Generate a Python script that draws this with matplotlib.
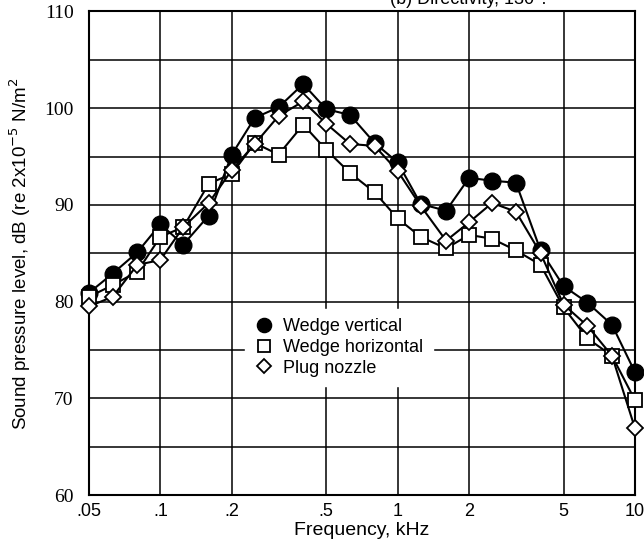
import numpy as np
import matplotlib
matplotlib.use("Agg")
import matplotlib.pyplot as plt
from matplotlib.ticker import FixedLocator, FixedFormatter, NullLocator

plt.rcParams['font.family'] = ['Liberation Sans', 'DejaVu Sans']

# 1/3-octave band centre frequencies, kHz
freq = [0.05, 0.063, 0.08, 0.1, 0.125, 0.16, 0.2, 0.25, 0.315, 0.4, 0.5, 0.63,
        0.8, 1.0, 1.25, 1.6, 2.0, 2.5, 3.15, 4.0, 5.0, 6.3, 8.0, 10.0]

wedge_vertical = [80.9, 82.9, 85.1, 88.0, 85.9, 88.9, 95.2, 99.0, 100.1, 102.5, 99.9, 99.3,
                  96.4, 94.4, 90.1, 89.4, 92.8, 92.5, 92.3, 85.3, 81.6, 79.9, 77.6, 72.7]
wedge_horizontal = [80.5, 81.7, 83.1, 86.7, 87.7, 92.2, 93.2, 96.4, 95.2, 98.3, 95.7, 93.3,
                    91.3, 88.6, 86.7, 85.5, 86.9, 86.5, 85.3, 83.8, 79.4, 76.2, 74.4, 69.8]
plug_nozzle = [79.5, 80.5, 83.8, 84.3, 87.7, 90.2, 93.6, 96.3, 99.2, 100.7, 98.4, 96.3,
               96.1, 93.5, 89.9, 86.3, 88.2, 90.2, 89.3, 85.0, 79.7, 77.5, 74.4, 66.9]

xtick_vals = [0.05, 0.1, 0.2, 0.5, 1, 2, 5, 10]
xtick_labels = ['.05', '.1', '.2', '.5', '1', '2', '5', '10']
ytick_vals = [60, 70, 80, 90, 100, 110]

fig = plt.figure(figsize=(6.44, 5.47), dpi=100)
ax = fig.add_axes([0.138, 0.095, 0.848, 0.884])

ax.plot(freq, wedge_vertical, color='black', lw=1.5, marker='o', ms=12,
        mfc='black', mec='black', label='Wedge vertical', zorder=3, clip_on=False)
ax.plot(freq, wedge_horizontal, color='black', lw=1.5, marker='s', ms=10.5,
        mfc='white', mec='black', mew=1.3, label='Wedge horizontal', zorder=4, clip_on=False)
ax.plot(freq, plug_nozzle, color='black', lw=1.5, marker='D', ms=8,
        mfc='white', mec='black', mew=1.3, label='Plug nozzle', zorder=5, clip_on=False)

ax.set_xscale('log')
ax.set_xlim(0.05, 10)
ax.set_ylim(60, 110)
ax.xaxis.set_major_locator(FixedLocator(xtick_vals))
ax.xaxis.set_major_formatter(FixedFormatter(xtick_labels))
ax.xaxis.set_minor_locator(NullLocator())
ax.set_yticks(ytick_vals)
ax.set_yticks(np.arange(60, 111, 5), minor=True)
ax.tick_params(which='both', length=0)
ax.tick_params(axis='x', labelsize=13, pad=6)
ax.tick_params(axis='y', labelsize=14, pad=11)
for lab in ax.get_yticklabels():
    lab.set_family(['Liberation Serif', 'DejaVu Serif'])

ax.grid(True, which='major', color='black', lw=1.1)
ax.grid(True, which='minor', axis='y', color='black', lw=1.1)
ax.set_axisbelow(True)
for s in ax.spines.values():
    s.set_linewidth(1.5)

ax.set_xlabel('Frequency, kHz', fontsize=14, labelpad=1)
ax.set_ylabel('Sound pressure level, dB (re 2x10$^{-5}$ N/m$^2$', fontsize=13.5, labelpad=8)

leg = ax.legend(loc='center', bbox_to_anchor=(0.458, 0.305), frameon=True, fontsize=13,
                handlelength=1.0, handletextpad=0.6, labelspacing=0.2,
                borderpad=0.5, numpoints=1, markerscale=0.85)
leg.get_frame().set_facecolor('white')
leg.get_frame().set_edgecolor('white')
leg.get_frame().set_alpha(1)
for h in leg.legend_handles:
    h.set_linestyle('none')

fig.text(0.605, 1.0, '(b) Directivity, 130°.', fontsize=13, va='center', ha='left')

fig.savefig('out.png', dpi=100)
